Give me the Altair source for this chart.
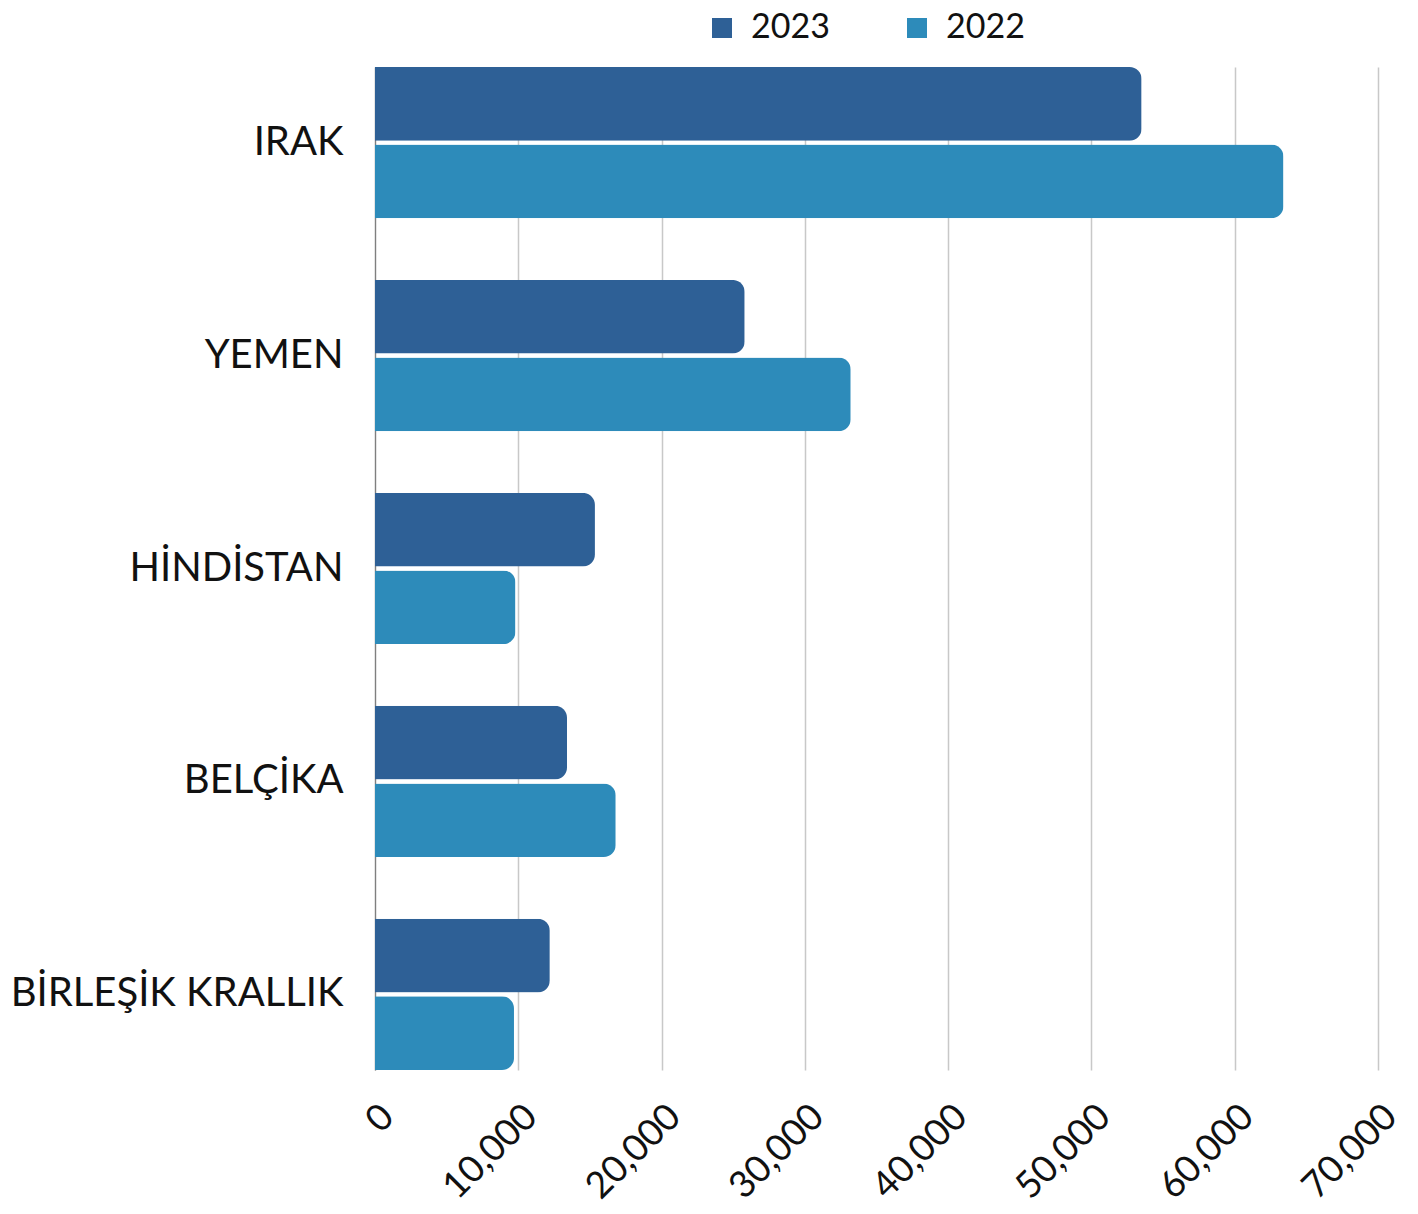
import altair as alt
import pandas as pd

countries = ["IRAK", "YEMEN", "HİNDİSTAN", "BELÇİKA", "BİRLEŞİK KRALLIK"]
years = ["2023", "2022"]
values_2023 = [53500, 25800, 15350, 13400, 12200]
values_2022 = [63400, 33200, 9800, 16800, 9700]
x_ticks = [0, 10000, 20000, 30000, 40000, 50000, 60000, 70000]
colors = ["#2E6096", "#2D8BBA"]

rows = []
for c, a, b in zip(countries, values_2023, values_2022):
    rows.append({"country": c, "year": "2023", "value": a})
    rows.append({"country": c, "year": "2022", "value": b})
df = pd.DataFrame(rows)

FONT = "Lato"

chart = alt.Chart(df).mark_bar(cornerRadiusEnd=12).encode(
    y=alt.Y("country:N", sort=countries, title=None,
            scale=alt.Scale(paddingInner=0.29, paddingOuter=0),
            axis=alt.Axis(labelFont=FONT, labelFontSize=40, labelColor="#111111",
                          labelPadding=32, ticks=False, tickSize=0,
                          domain=True, domainColor="#7F7F7F", domainWidth=1.2,
                          grid=False, labelLimit=0)),
    yOffset=alt.YOffset("year:N", sort=years,
                        scale=alt.Scale(paddingInner=0.05, paddingOuter=0)),
    x=alt.X("value:Q", title=None,
            scale=alt.Scale(domain=[0, 70000], nice=False),
            axis=alt.Axis(values=x_ticks, format=",d", labelAngle=-45,
                          labelAlign="right", labelBaseline="top",
                          labelFont=FONT, labelFontSize=37, labelColor="#111111",
                          labelPadding=28, ticks=False, tickSize=0,
                          domain=False, grid=True, gridColor="#C8C8C8",
                          gridWidth=1.5, labelOverlap=False, labelFlush=False)),
    color=alt.Color("year:N", title=None,
                    scale=alt.Scale(domain=years, range=colors),
                    legend=alt.Legend(orient="none", direction="horizontal",
                                      legendX=330, legendY=-56,
                                      symbolType="square", symbolSize=400,
                                      symbolStrokeWidth=0, labelFont=FONT,
                                      labelFontSize=34, labelColor="#111111",
                                      labelOffset=12, columnPadding=70,
                                      padding=0)),
).properties(
    width=1003,
    height=1003,
    autosize=alt.AutoSizeParams(type="none"),
    padding={"left": 367, "top": 59, "right": 32, "bottom": 135},
).configure_view(stroke=None)

chart.save("out.html", embed_options={"renderer": "svg", "actions": False})
